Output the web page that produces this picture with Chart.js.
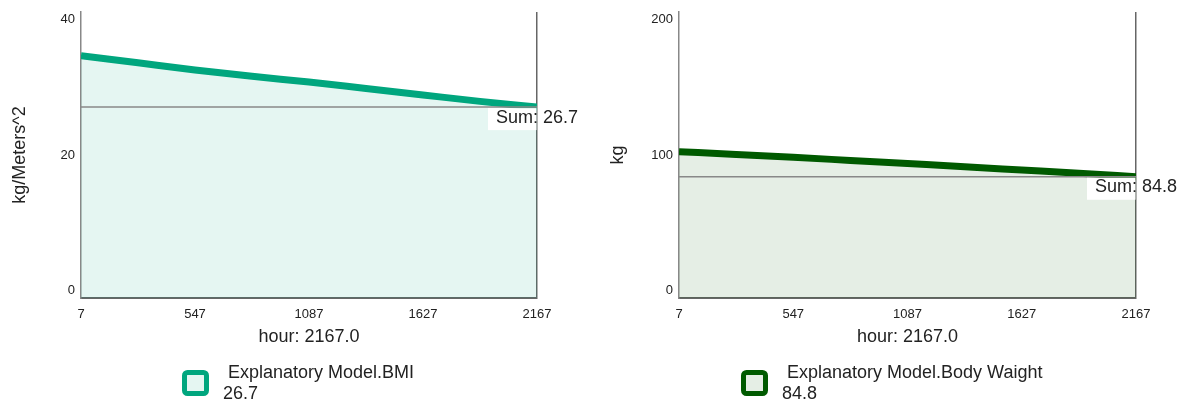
<!DOCTYPE html>
<html>
<head>
<meta charset="utf-8">
<script src="https://cdn.jsdelivr.net/npm/chart.js@4.4.0/dist/chart.umd.min.js"></script>
<style>
  html, body { margin: 0; padding: 0; background: #fff; }
  #wrap { position: relative; width: 1191px; height: 403px; }
  .panel { position: absolute; top: 0; height: 403px; }
</style>
</head>
<body>
<div id="wrap">
  <div class="panel" style="left:0;width:595px"><canvas id="bmiChart" width="595" height="403"></canvas></div>
  <div class="panel" style="left:598px;width:593px"><canvas id="weightChart" width="593" height="403"></canvas></div>
</div>
<script>
// hours along the x axis
const hours = [7, 277, 547, 817, 1087, 1357, 1627, 1897, 2167];
const hourTicks = [7, 547, 1087, 1627, 2167];

// series values
const bmiValues = [33.9, 32.9, 31.9, 31.0, 30.2, 29.3, 28.4, 27.5, 26.7];
const weightValues = [102.3, 100.4, 98.4, 96.2, 94.0, 91.8, 89.5, 87.2, 84.8];

const bmiTicks = [0, 20, 40];
const weightTicks = [0, 100, 200];

const FONT = "'Liberation Sans', Arial, sans-serif";
const TEXT = "#222";

// horizontal "Sum" line + label, and the legend item below the axis
const sumPlugin = {
  id: "sumMarker",
  afterDatasetsDraw(chart, args, opts) {
    const { ctx, chartArea } = chart;
    const y = chart.scales.y.getPixelForValue(opts.value);
    ctx.save();
    ctx.strokeStyle = "#888";
    ctx.lineWidth = 1.5;
    ctx.beginPath();
    ctx.moveTo(chartArea.left, y);
    ctx.lineTo(chartArea.right, y);
    ctx.stroke();

    ctx.fillStyle = "#fff";
    ctx.fillRect(chartArea.right - 49, y + 1, 48.5, 22);
    ctx.fillStyle = TEXT;
    ctx.font = "18px " + FONT;
    ctx.textAlign = "center";
    ctx.textBaseline = "middle";
    ctx.fillText("Sum: " + opts.value.toFixed(1), chartArea.right, y + 10.5);
    ctx.restore();
  },
  afterDraw(chart, args, opts) {
    const { ctx, chartArea } = chart;
    const bx = chartArea.left + opts.legendX;
    const by = 370;
    ctx.save();
    ctx.fillStyle = opts.fill;
    ctx.strokeStyle = opts.color;
    ctx.lineWidth = 5;
    ctx.beginPath();
    ctx.roundRect(bx + 2.5, by + 2.5, 22, 21, 3);
    ctx.fill();
    ctx.stroke();

    ctx.fillStyle = TEXT;
    ctx.font = "18px " + FONT;
    ctx.textAlign = "left";
    ctx.textBaseline = "middle";
    ctx.fillText(" " + opts.name, bx + 41, 373);
    ctx.fillText(opts.value.toFixed(1), bx + 41, 394);
    ctx.restore();
  }
};

function makeChart(canvasId, values, yTicks, yTitle, lineColor, fillColor, rightPad, legendName, legendX) {
  const yMin = yTicks[0];
  const yMax = yTicks[yTicks.length - 1];
  const last = values[values.length - 1];

  return new Chart(document.getElementById(canvasId), {
    type: "line",
    data: {
      datasets: [{
        data: hours.map((h, i) => ({ x: h, y: values[i] })),
        borderColor: lineColor,
        backgroundColor: fillColor,
        borderWidth: 7,
        fill: "origin",
        pointRadius: 0,
        cubicInterpolationMode: "monotone"
      }]
    },
    plugins: [sumPlugin],
    options: {
      responsive: false,
      animation: false,
      layout: { padding: { top: 12, right: rightPad, bottom: 55, left: 0 } },
      plugins: {
        legend: { display: false },
        tooltip: { enabled: false },
        sumMarker: { value: last, name: legendName, legendX: legendX, color: lineColor, fill: fillColor }
      },
      scales: {
        x: {
          type: "linear",
          min: hours[0],
          max: hours[hours.length - 1],
          afterBuildTicks: scale => { scale.ticks = hourTicks.map(v => ({ value: v })); },
          afterFit: scale => { scale.height = 50; scale.paddingLeft = 0; scale.paddingRight = 0; },
          grid: {
            drawTicks: false,
            color: c => (c.tick && c.tick.value === hours[hours.length - 1]) ? "#666" : "rgba(0,0,0,0)",
            lineWidth: 1.5
          },
          border: { color: "#666", width: 2 },
          ticks: {
            color: TEXT,
            font: { family: FONT, size: 13 },
            padding: 9,
            maxRotation: 0,
            callback: v => String(v)
          },
          title: {
            display: true,
            text: "hour: " + hours[hours.length - 1].toFixed(1),
            color: TEXT,
            font: { family: FONT, size: 18 },
            padding: { top: 0, bottom: 0 }
          }
        },
        y: {
          min: yMin,
          max: yMax,
          afterBuildTicks: scale => { scale.ticks = yTicks.map(v => ({ value: v })); },
          afterFit: scale => { scale.width = 81; scale.paddingTop = 0; scale.paddingBottom = 0; },
          grid: { display: false, drawTicks: false },
          border: { color: "#888", width: 1.5 },
          ticks: {
            color: TEXT,
            font: { family: FONT, size: 13 },
            padding: 6,
            // first and last labels sit inside the axis ends
            callback: v => v === yMax ? ["", String(v)] : (v === yMin ? [String(v), ""] : String(v))
          },
          title: {
            display: true,
            text: yTitle,
            color: TEXT,
            font: { family: FONT, size: 18 },
            padding: { top: 9, bottom: 0 }
          }
        }
      }
    }
  });
}

makeChart("bmiChart", bmiValues, bmiTicks, "kg/Meters^2", "#00a67e", "rgba(0,166,126,0.1)", 58, "Explanatory Model.BMI", 101);
makeChart("weightChart", weightValues, weightTicks, "kg", "#005a00", "rgba(0,90,0,0.1)", 55, "Explanatory Model.Body Waight", 62);
</script>
</body>
</html>
